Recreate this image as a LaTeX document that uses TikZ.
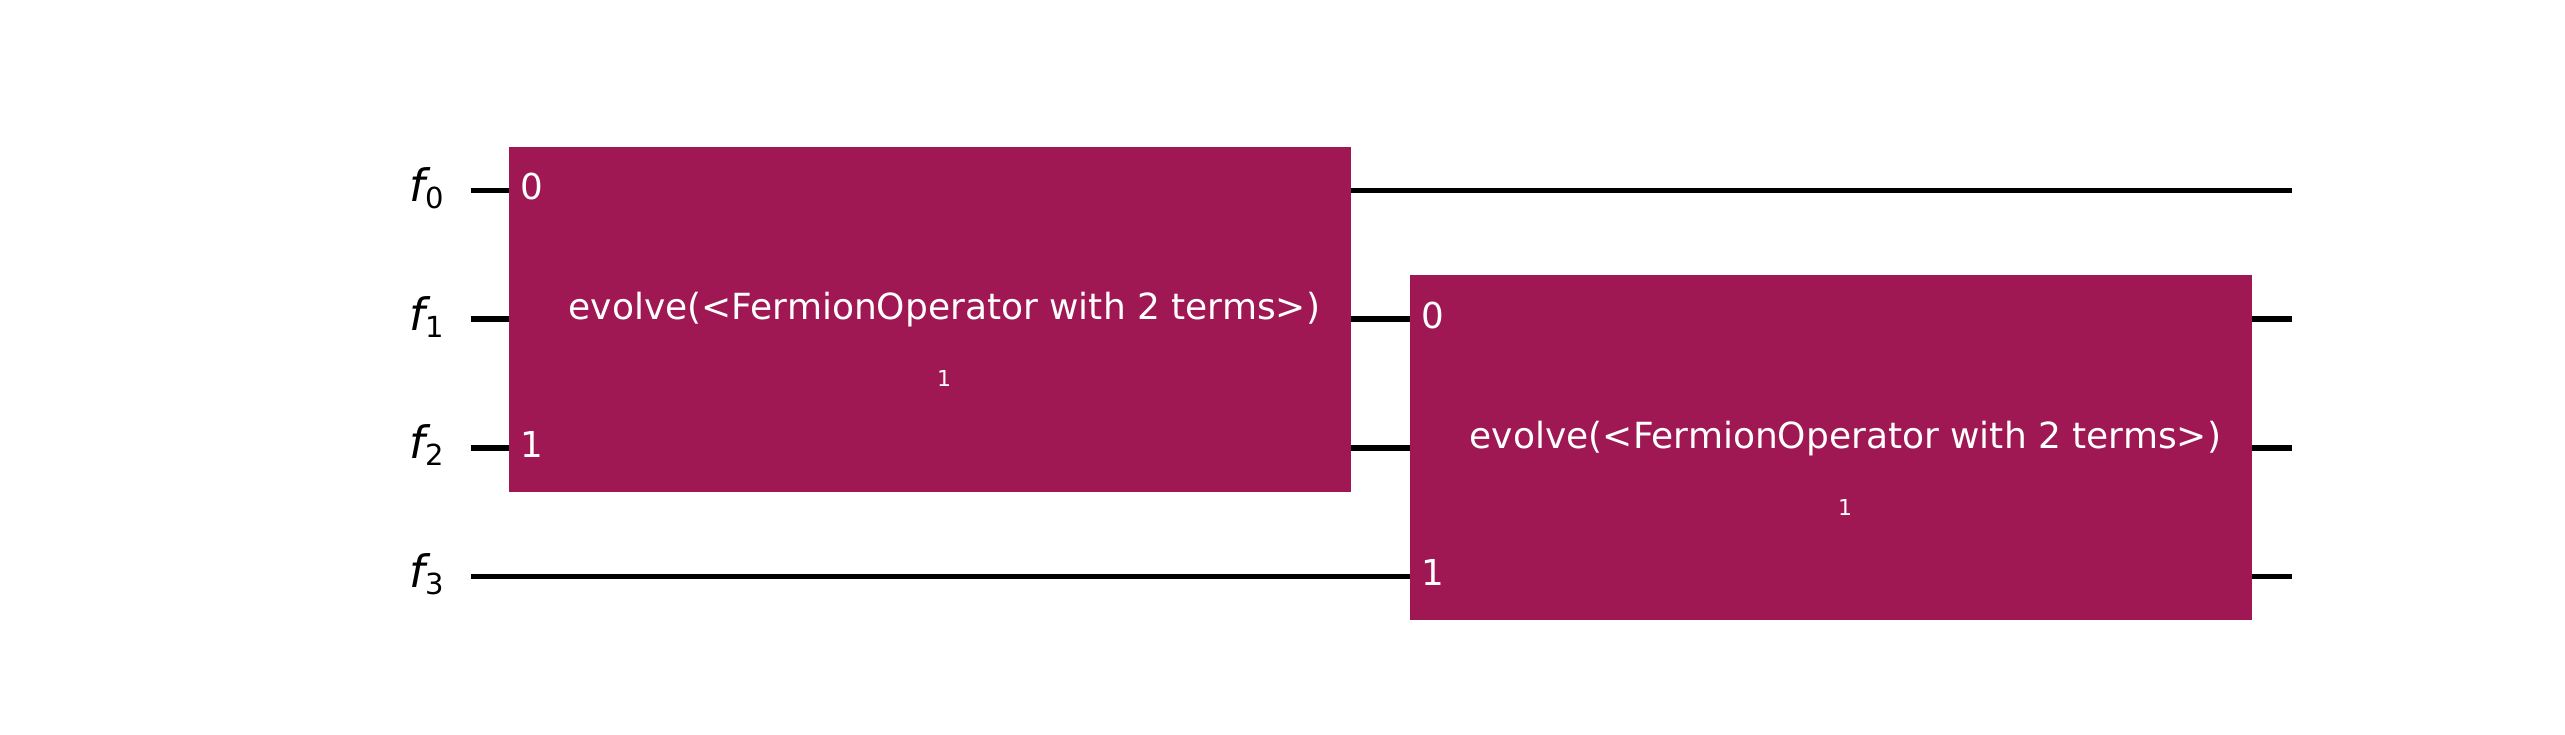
\documentclass[tikz,border=0pt]{standalone}
\usepackage{fontspec}
\setmainfont{DejaVu Sans}
\definecolor{gatecol}{HTML}{9F1853}
\begin{document}
\begin{tikzpicture}[x=1pt,y=-1pt,
  wire/.style={line width=5.5pt, black},
  gatebox/.style={fill=gatecol, draw=none, inner sep=0pt, minimum width=842pt, minimum height=345pt},
  gtext/.style={text=white, inner sep=0pt, anchor=base, font=\fontsize{36}{40}\selectfont},
  subtext/.style={text=white, inner sep=0pt, font=\fontsize{22}{26}\selectfont},
  portlab/.style={text=white, inner sep=0pt, anchor=base west, font=\fontsize{35.7}{40}\selectfont},
  wirelab/.style={inner sep=0pt, anchor=base east, font=\fontsize{44.7}{50}\selectfont}]
\useasboundingbox (0,0) rectangle (2565,735);
% wire end points
\coordinate (s0) at (471,190.5);
\coordinate (e0) at (2292,190.5);
\coordinate (s1) at (471,319.2);
\coordinate (e1) at (2292,319.2);
\coordinate (s2) at (471,447.9);
\coordinate (e2) at (2292,447.9);
\coordinate (s3) at (471,576.6);
\coordinate (e3) at (2292,576.6);
\draw[wire] (s0) -- (e0);
\draw[wire] (s1) -- (e1);
\draw[wire] (s2) -- (e2);
\draw[wire] (s3) -- (e3);
% wire labels
\node[wirelab] (l0) at (444,201.5) {\itshape f\raisebox{-7pt}{\upshape\fontsize{29}{32}\selectfont 0}};
\node[wirelab] (l1) at (444,330.2) {\itshape f\raisebox{-7pt}{\upshape\fontsize{29}{32}\selectfont 1}};
\node[wirelab] (l2) at (444,458.9) {\itshape f\raisebox{-7pt}{\upshape\fontsize{29}{32}\selectfont 2}};
\node[wirelab] (l3) at (444,587.6) {\itshape f\raisebox{-7pt}{\upshape\fontsize{29}{32}\selectfont 3}};
% gates
\node[gatebox] (g1) at (930,319.2) {};
\node[gatebox] (g2) at (1830.7,447.9) {};
\node[gtext] (g1t) at (944.5,319.5) {evolve(<FermionOperator with 2 terms>)};
\node[subtext] (g1s) at (944,378) {1};
\node[gtext] (g2t) at (1845.5,448.2) {evolve(<FermionOperator with 2 terms>)};
\node[subtext] (g2s) at (1845,507) {1};
% port labels
\node[portlab] (p10) at (520,199.5) {0};
\node[portlab] (p11) at (520,457) {1};
\node[portlab] (p20) at (1421,328.2) {0};
\node[portlab] (p21) at (1421,585.6) {1};
\end{tikzpicture}
\end{document}
